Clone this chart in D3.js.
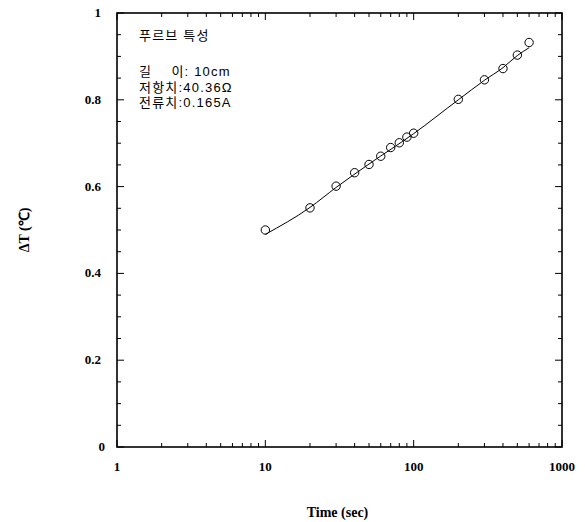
<!DOCTYPE html>
<html>
<head>
<meta charset="utf-8">
<script src="https://cdn.jsdelivr.net/npm/d3@7"></script>
<style>
  body { margin: 0; background: #fff; }
  .tick-label { font-family: 'Liberation Serif', 'DejaVu Serif', serif; font-weight: bold; font-size: 13px; }
  .note { font-family: 'Liberation Sans', 'Noto Sans CJK KR', sans-serif; font-size: 13px; letter-spacing: 1.2px; }
</style>
</head>
<body>
<div id="chart"></div>
<script>
// measured points
const timeSec = [10, 20, 30, 40, 50, 60, 70, 80, 90, 100, 200, 300, 400, 500, 600]
const deltaT = [0.5, 0.551, 0.601, 0.632, 0.651, 0.67, 0.69, 0.701, 0.714, 0.723, 0.801, 0.846, 0.872, 0.903, 0.932]

// fitted curve drawn through the points
const fitTime = [10, 20, 30, 50, 100, 200, 300, 400, 500, 600]
const fitDeltaT = [0.49, 0.552, 0.598, 0.652, 0.722, 0.8, 0.845, 0.874, 0.902, 0.92]

const xTicks = [1, 10, 100, 1000]
const yTicks = [0, 0.2, 0.4, 0.6, 0.8, 1]
const noteTitle = '푸르브 특성'
const noteLines = ['길\u00a0\u00a0\u00a0\u00a0이:\u00a010cm', '저항치:40.36Ω', '전류치:0.165A']

let margin = { top: 13, right: 23, bottom: 75, left: 117 }
let W = 585, H = 522
let width = W - margin.left - margin.right
let height = H - margin.top - margin.bottom

let svg = d3.select('#chart').append('svg')
  .attr('width', W)
  .attr('height', H)

let g = svg.append('g')
  .attr('transform', 'translate(' + margin.left + ',' + margin.top + ')')

let x = d3.scaleLog().domain([1, 1000]).range([0, width])
let y = d3.scaleLinear().domain([0, 1]).range([height, 0])

// minor ticks
let minorX = []
for (let d = 1; d < 1000; d *= 10)
  for (let k = 2; k <= 9; k++) minorX.push(d * k)
let minorY = d3.range(0.05, 1, 0.05).filter(v => Math.abs(v * 5 - Math.round(v * 5)) > 1e-6)

let ticks = g.append('g').attr('stroke', '#000').attr('stroke-width', 1)
// bottom + top
xTicks.forEach(v => {
  ticks.append('line').attr('x1', x(v)).attr('x2', x(v)).attr('y1', height).attr('y2', height - 7)
  ticks.append('line').attr('x1', x(v)).attr('x2', x(v)).attr('y1', 0).attr('y2', 7)
})
minorX.forEach(v => {
  ticks.append('line').attr('x1', x(v)).attr('x2', x(v)).attr('y1', height).attr('y2', height - 4)
  ticks.append('line').attr('x1', x(v)).attr('x2', x(v)).attr('y1', 0).attr('y2', 4)
})
// left + right
yTicks.forEach(v => {
  ticks.append('line').attr('x1', 0).attr('x2', 7).attr('y1', y(v)).attr('y2', y(v))
  ticks.append('line').attr('x1', width).attr('x2', width - 7).attr('y1', y(v)).attr('y2', y(v))
})
minorY.forEach(v => {
  ticks.append('line').attr('x1', 0).attr('x2', 4).attr('y1', y(v)).attr('y2', y(v))
  ticks.append('line').attr('x1', width).attr('x2', width - 4).attr('y1', y(v)).attr('y2', y(v))
})

// frame
g.append('rect')
  .attr('width', width)
  .attr('height', height)
  .attr('fill', 'none')
  .attr('stroke', '#000')
  .attr('stroke-width', 1.6)

// tick labels
g.selectAll('.xl').data(xTicks).enter().append('text')
  .attr('class', 'tick-label')
  .attr('x', d => x(d))
  .attr('y', height + 24)
  .attr('text-anchor', 'middle')
  .text(d => d)

g.selectAll('.yl').data(yTicks).enter().append('text')
  .attr('class', 'tick-label')
  .attr('x', d => d === 0 ? -12 : -16)
  .attr('y', d => y(d) + 4)
  .attr('text-anchor', 'end')
  .text(d => d)

// fit line
let line = d3.line()
  .x((d, i) => x(fitTime[i]))
  .y(d => y(d))
  .curve(d3.curveMonotoneX)
g.append('path')
  .datum(fitDeltaT)
  .attr('fill', 'none')
  .attr('stroke', '#000')
  .attr('stroke-width', 1)
  .attr('d', line)

// points
g.selectAll('circle').data(timeSec).enter().append('circle')
  .attr('cx', d => x(d))
  .attr('cy', (d, i) => y(deltaT[i]))
  .attr('r', 4.2)
  .attr('fill', 'none')
  .attr('stroke', '#000')
  .attr('stroke-width', 1)

// legend note
g.append('text')
  .attr('class', 'note')
  .attr('x', 22)
  .attr('y', 27)
  .text(noteTitle)

let note = g.append('text')
  .attr('class', 'note')
  .attr('x', 22)
  .attr('y', 63)
note.selectAll('tspan').data(noteLines).enter().append('tspan')
  .attr('x', 22)
  .attr('dy', (d, i) => i === 0 ? 0 : 15.5)
  .text(d => d)

// axis titles
svg.append('text')
  .attr('x', margin.left + width / 2 - 2)
  .attr('y', 517)
  .attr('text-anchor', 'middle')
  .style('font-family', 'Liberation Serif, serif')
  .style('font-weight', 'bold')
  .style('font-size', '14px')
  .text('Time (sec)')

svg.append('text')
  .attr('transform', 'translate(29,' + (margin.top + height / 2) + ') rotate(-90)')
  .attr('text-anchor', 'middle')
  .style('font-family', 'Liberation Serif, serif')
  .style('font-weight', 'bold')
  .style('font-size', '14px')
  .text('ΔT (℃)')
</script>
</body>
</html>
